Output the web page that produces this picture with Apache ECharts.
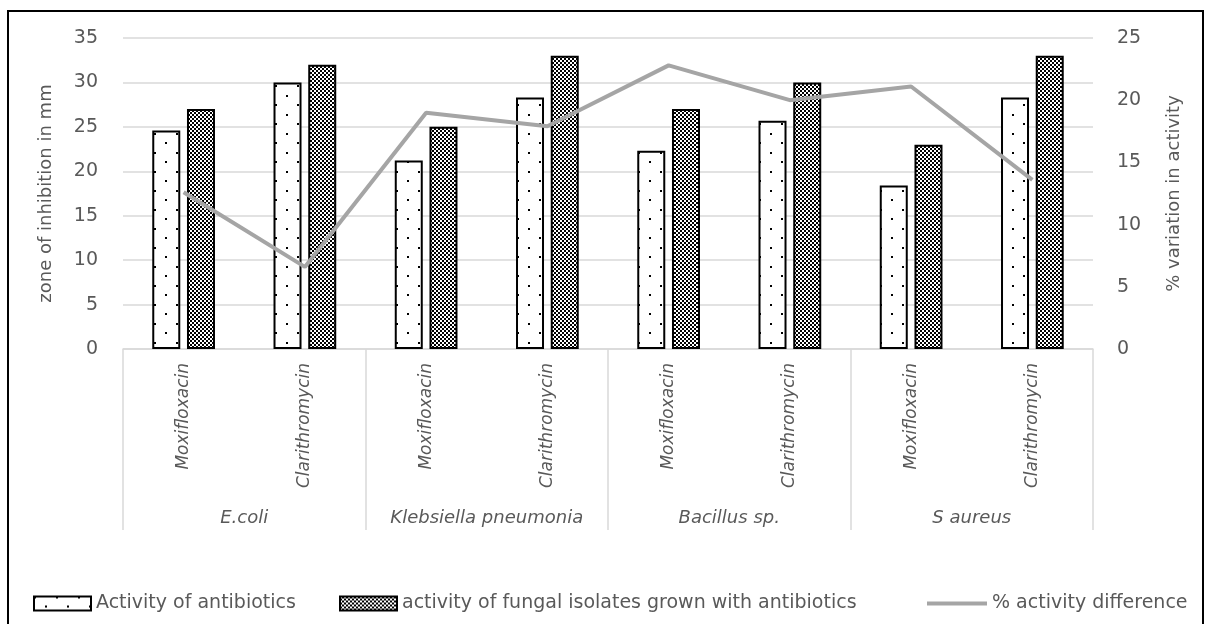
<!DOCTYPE html>
<html>
<head>
<meta charset="utf-8">
<title>Zone of inhibition</title>
<script src="https://cdn.jsdelivr.net/npm/echarts@6/dist/echarts.min.js"></script>
<style>
  html, body { margin: 0; padding: 0; background: #fff; }
  #chart { width: 1208px; height: 624px; }
</style>
</head>
<body>
<div id="chart"></div>
<script>
// Organisms (outer category level) and antibiotics tested on each (inner level)
const organisms = ['E.coli', 'Klebsiella pneumonia', 'Bacillus sp.', 'S aureus'];
const antibiotics = ['Moxifloxacin', 'Clarithromycin'];

// Zone of inhibition (mm), one value per organism/antibiotic pair
const antibioticActivity = [24.6, 30.0, 21.2, 28.3, 22.3, 25.7, 18.4, 28.3];
const fungalActivity = [27.0, 32.0, 25.0, 33.0, 27.0, 30.0, 23.0, 33.0];
// Percent difference in activity (right axis)
const activityDifference = [12.6, 6.6, 19.0, 17.9, 22.8, 20.0, 21.1, 13.6];

const leftTicks = { min: 0, max: 35, interval: 5 };
const rightTicks = { min: 0, max: 25, interval: 5 };

const seriesNames = [
  'Activity of antibiotics',
  'activity of fungal isolates grown with antibiotics',
  '% activity difference'
];

// Inner-level category keys: organism index + antibiotic
const pairKeys = [];
organisms.forEach((o, i) => antibiotics.forEach(a => pairKeys.push(i + '|' + a)));

// Fill patterns for the two bar series
function dotPattern() {
  const c = document.createElement('canvas');
  c.width = 22; c.height = 19;
  const g = c.getContext('2d');
  g.fillStyle = '#ffffff'; g.fillRect(0, 0, 22, 19);
  g.fillStyle = '#000000';
  g.fillRect(0, 0, 2, 2);
  g.fillRect(11, 9, 2, 2);
  return c;
}
function checkerPattern() {
  const c = document.createElement('canvas');
  c.width = 4; c.height = 4;
  const g = c.getContext('2d');
  g.fillStyle = '#000000'; g.fillRect(0, 0, 4, 4);
  g.fillStyle = '#ffffff';
  g.fillRect(0, 0, 2, 2);
  g.fillRect(2, 2, 2, 2);
  return c;
}

const FONT = 'DejaVu Sans';
const TEXT = '#595959';
const GRID = '#d9d9d9';

const chart = echarts.init(document.getElementById('chart'), null, { renderer: 'canvas' });

const legendBase = {
  top: 589,
  itemWidth: 57,
  itemHeight: 14,
  icon: 'rect',
  textStyle: { fontFamily: FONT, fontSize: 19, color: TEXT },
  selectedMode: false
};

chart.setOption({
  animation: false,
  backgroundColor: '#ffffff',
  textStyle: { fontFamily: FONT },
  grid: { left: 123, right: 115, top: 38, bottom: 275, containLabel: false },
  graphic: [{
    type: 'rect',
    shape: { x: 8, y: 11, width: 1195, height: 700 },
    style: { fill: 'none', stroke: '#000000', lineWidth: 2 },
    silent: true
  }],
  legend: [
    Object.assign({}, legendBase, { left: 28, data: [seriesNames[0]] }),
    Object.assign({}, legendBase, { left: 334, data: [seriesNames[1]] }),
    Object.assign({}, legendBase, { left: 922, itemWidth: 60, itemHeight: 4, data: [seriesNames[2]] })
  ],
  xAxis: [
    {
      type: 'category',
      data: pairKeys,
      position: 'bottom',
      axisLine: { show: true, lineStyle: { color: GRID, width: 1.5 } },
      axisTick: { show: false },
      axisLabel: {
        interval: 0,
        rotate: 90,
        margin: 14,
        fontFamily: FONT,
        fontSize: 17,
        fontStyle: 'italic',
        color: TEXT,
        formatter: v => v.split('|')[1]
      }
    },
    {
      type: 'category',
      data: organisms,
      position: 'bottom',
      offset: 0,
      axisLine: { show: false },
      axisTick: { show: true, length: 181, interval: 0, lineStyle: { color: GRID, width: 1.5 } },
      axisLabel: {
        interval: 0,
        margin: 160,
        fontFamily: FONT,
        fontSize: 18,
        fontStyle: 'italic',
        color: TEXT
      },
      splitLine: { show: false }
    }
  ],
  yAxis: [
    {
      type: 'value',
      min: leftTicks.min, max: leftTicks.max, interval: leftTicks.interval,
      name: 'zone of inhibition in mm',
      nameLocation: 'middle',
      nameRotate: 90,
      nameGap: 68,
      nameTextStyle: { fontFamily: FONT, fontSize: 18, color: TEXT },
      axisLine: { show: false },
      axisTick: { show: false },
      axisLabel: { margin: 25, fontFamily: FONT, fontSize: 19, color: TEXT },
      splitLine: { show: true, lineStyle: { color: GRID, width: 1.5 } }
    },
    {
      type: 'value',
      position: 'right',
      min: rightTicks.min, max: rightTicks.max, interval: rightTicks.interval,
      name: '% variation in activity',
      nameLocation: 'middle',
      nameRotate: 90,
      nameGap: 72,
      nameTextStyle: { fontFamily: FONT, fontSize: 18, color: TEXT },
      axisLine: { show: false },
      axisTick: { show: false },
      axisLabel: { margin: 24, fontFamily: FONT, fontSize: 19, color: TEXT },
      splitLine: { show: false }
    }
  ],
  series: [
    {
      name: seriesNames[0],
      type: 'bar',
      xAxisIndex: 0,
      yAxisIndex: 0,
      barWidth: 28,
      barGap: '24%',
      data: antibioticActivity,
      itemStyle: {
        color: { image: dotPattern(), repeat: 'repeat' },
        borderColor: '#000000',
        borderWidth: 2
      }
    },
    {
      name: seriesNames[1],
      type: 'bar',
      xAxisIndex: 0,
      yAxisIndex: 0,
      barWidth: 28,
      barGap: '24%',
      data: fungalActivity,
      itemStyle: {
        color: { image: checkerPattern(), repeat: 'repeat' },
        borderColor: '#000000',
        borderWidth: 2
      }
    },
    {
      name: seriesNames[2],
      type: 'line',
      xAxisIndex: 0,
      yAxisIndex: 1,
      data: activityDifference,
      symbol: 'none',
      lineStyle: { color: '#a5a5a5', width: 4 },
      itemStyle: { color: '#a5a5a5' },
      z: 5
    }
  ]
});
</script>
</body>
</html>
